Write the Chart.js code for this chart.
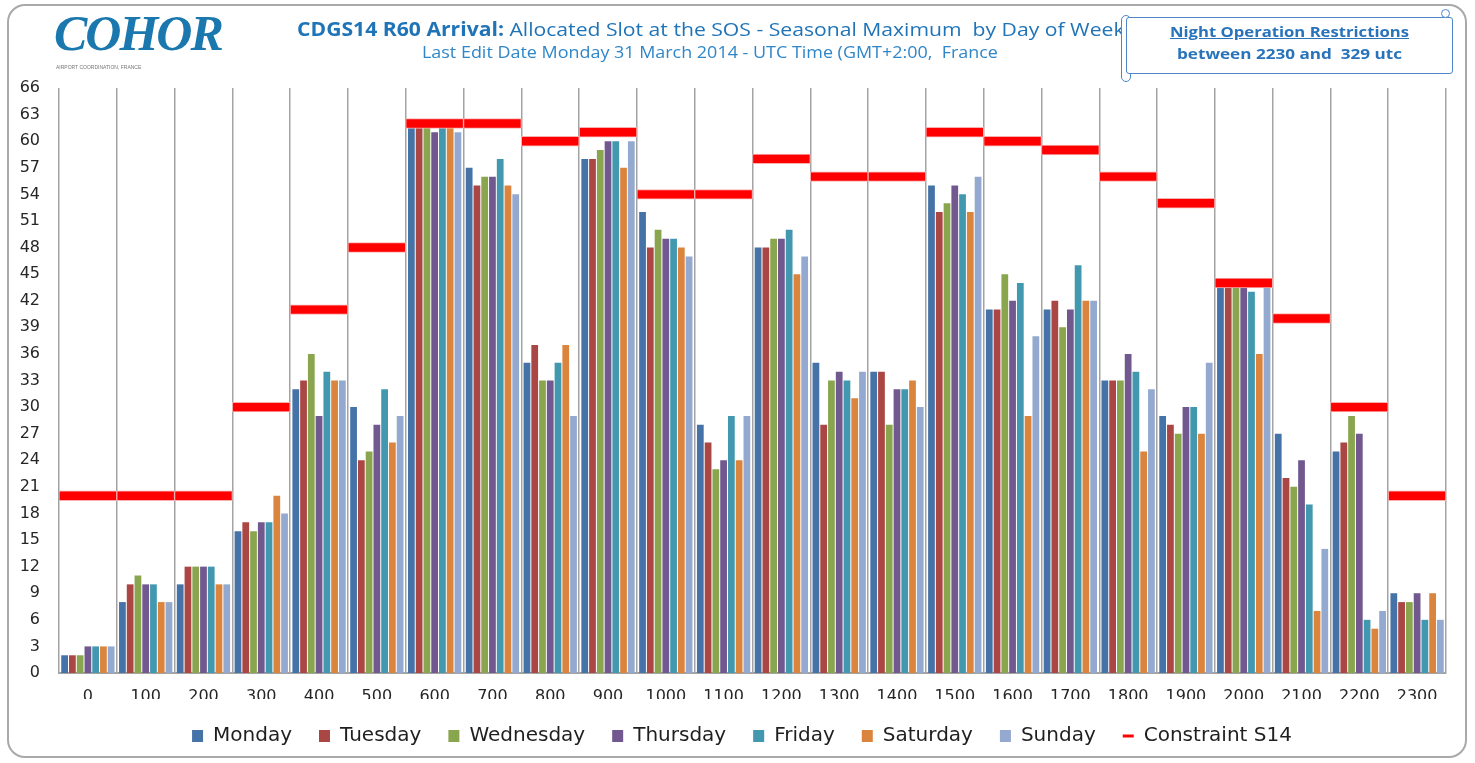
<!DOCTYPE html>
<html>
<head>
<meta charset="utf-8">
<script src="https://cdn.jsdelivr.net/npm/chart.js@4.4.1/dist/chart.umd.min.js"></script>
<style>
  html, body { margin: 0; padding: 0; background: #fff; }
  #wrap { position: relative; width: 1475px; height: 763px; overflow: hidden; background: #fff; }
  #c { position: absolute; left: 0; top: 0; }
  .frame { position: absolute; left: 7px; top: 4px; width: 1460px; height: 754px; border: 2px solid #a9a9a9; border-radius: 18px; pointer-events: none; box-sizing: border-box; }
  .logo { position: absolute; left: 54px; top: 8px; font-family: 'Liberation Serif'; font-style: italic; font-weight: bold; font-size: 50px; line-height: 1; color: #1B78AE; letter-spacing: -2px; white-space: nowrap; }
  .logosub { position: absolute; left: 56px; top: 64px; font-family: 'Liberation Sans'; font-size: 5px; color: #777; white-space: nowrap; }
  .title { position: absolute; left: 297px; top: 20px; font-family: 'Open Sans'; font-size: 19px; line-height: 1; color: #1F74B8; white-space: nowrap; transform: scaleX(1.113); transform-origin: left top; }
  .subtitle { position: absolute; left: 422px; top: 45px; font-family: 'Open Sans'; font-size: 15.5px; line-height: 1; color: #2F86C8; white-space: nowrap; transform: scaleX(1.157); transform-origin: left top; }
  .curl { position: absolute; left: 1121px; top: 15px; width: 10px; height: 67px; border: 1.5px solid #4F86C6; border-radius: 5px; background: #fff; box-sizing: border-box; }
  .note { position: absolute; left: 1126px; top: 17px; width: 327px; height: 57px; border: 1.5px solid #4F86C6; border-radius: 3px; background: #fff; box-sizing: border-box; font-family: 'Open Sans'; font-weight: bold; color: #2873BA; }
  .note .l1 { position: absolute; left: 0; right: 0; top: 6px; text-align: center; font-size: 15px; line-height: 1; text-decoration: underline; white-space: nowrap; transform: scaleX(1.11); }
  .note .l2 { position: absolute; left: 0; right: 0; top: 28px; text-align: center; font-size: 15px; line-height: 1; white-space: nowrap; transform: scaleX(1.14); }
  .knob { position: absolute; left: 1441px; top: 9px; width: 9px; height: 9px; border: 1.5px solid #4F86C6; border-radius: 50%; background: #fff; box-sizing: border-box; }
</style>
</head>
<body>
<div id="wrap">
  <canvas id="c" width="1475" height="763"></canvas>
  <div class="logo">COHOR</div>
  <div class="logosub">AIRPORT COORDINATION, FRANCE</div>
  <div class="title"><b>CDGS14 R60 Arrival:</b> Allocated Slot at the SOS - Seasonal Maximum&nbsp; by Day of Week</div>
  <div class="subtitle">Last Edit Date Monday 31 March 2014 - UTC Time (GMT+2:00,&nbsp; France</div>
  <div class="curl"></div>
  <div class="note">
    <div class="l1">Night Operation Restrictions</div>
    <div class="l2">between 2230 and&nbsp; 329 utc</div>
  </div>
  <div class="knob"></div>
  <div class="frame"></div>
</div>
<script>
// ---- Data ----
const hours = ['0','100','200','300','400','500','600','700','800','900','1000','1100',
               '1200','1300','1400','1500','1600','1700','1800','1900','2000','2100','2200','2300'];
const dayNames = ['Monday','Tuesday','Wednesday','Thursday','Friday','Saturday','Sunday'];
const monday    = [2, 8,10,16,32,30,62,57,35,58,52,28,48,35,34,55,41,41,33,29,44,27,25,9];
const tuesday   = [2,10,12,17,33,24,62,55,37,58,48,26,48,28,34,52,41,42,33,28,44,22,26,8];
const wednesday = [2,11,12,16,36,25,62,56,33,59,50,23,49,33,28,53,45,39,33,27,44,21,29,8];
const thursday  = [3,10,12,17,29,28,61,56,33,60,49,24,49,34,32,55,42,41,36,30,44,24,27,9];
const friday    = [3,10,12,17,34,32,62,58,35,60,49,29,50,33,32,54,44,46,34,30,43,19,6,6];
const saturday  = [3, 8,10,20,33,26,62,55,37,57,48,24,45,31,33,52,29,42,25,27,36,7,5,9];
const sunday    = [3, 8,10,18,33,29,61,54,29,60,47,29,47,34,30,56,38,42,32,35,44,14,7,6];
const constraintS14 = [20,20,20,30,41,48,62,62,60,61,54,54,58,56,56,61,60,59,56,53,44,40,30,20];
const yTicksMax = 66;
const yTickStep = 3;

// ---- Styles ----
const dayColors = ['#4572A7','#AA4643','#89A54E','#71588F','#4198AF','#DB843D','#93A9CF'];
const constraintColor = '#FF0000';
const constraintHalf = 0.55; // half thickness of the constraint band, in axis units
const textColor = '#262626';

const daySeries = [monday, tuesday, wednesday, thursday, friday, saturday, sunday];
const datasets = daySeries.map((d, i) => ({
  type: 'bar',
  label: dayNames[i],
  data: d,
  backgroundColor: dayColors[i],
  borderWidth: 0,
  categoryPercentage: 0.94,
  barPercentage: 0.87,
  order: 1
}));
datasets.push({
  type: 'bar',
  label: 'Constraint S14',
  data: constraintS14.map(v => [v - constraintHalf, v + constraintHalf]),
  backgroundColor: constraintColor,
  borderColor: '#F7B0B0',
  borderWidth: 1,
  borderSkipped: false,
  grouped: false,
  categoryPercentage: 1,
  barPercentage: 1,
  order: 0
});

// shift the legend so it is centred where the reference puts it
const legendShift = {
  id: 'legendShift',
  afterLayout(chart) {
    if (chart.legend) { chart.legend.left += 19; chart.legend.right += 19; }
  }
};

new Chart(document.getElementById('c'), {
  data: { labels: hours, datasets },
  plugins: [legendShift],
  options: {
    responsive: false,
    animation: false,
    devicePixelRatio: 1,
    layout: { padding: { left: 0, right: 29, top: 88, bottom: 7 } },
    scales: {
      x: {
        grid: { offset: true, color: '#a3a3a3', lineWidth: 1.5, drawTicks: false },
        border: { display: true, color: '#a3a3a3', width: 2 },
        ticks: { font: { family: 'DejaVu Sans', size: 16 }, color: textColor, padding: 14, maxRotation: 0, autoSkip: false },
        afterFit(s) { s.height = 26; }
      },
      y: {
        min: 0, max: yTicksMax,
        grid: { display: false, drawTicks: false },
        border: { display: false },
        ticks: { stepSize: yTickStep, font: { family: 'DejaVu Sans', size: 16 }, color: textColor, padding: 19 },
        afterFit(s) { s.width = 59; }
      }
    },
    plugins: {
      tooltip: { enabled: false },
      title: { display: false },
      legend: {
        position: 'bottom',
        labels: {
          font: { family: 'DejaVu Sans', size: 20 },
          color: '#1f1f1f',
          usePointStyle: true,
          boxHeight: 12,
          pointStyleWidth: 11,
          padding: 27,
          generateLabels(chart) {
            return chart.data.datasets.map((ds, i) => {
              const isLine = i === chart.data.datasets.length - 1;
              return {
                text: ds.label,
                fillStyle: isLine ? 'rgba(0,0,0,0)' : ds.backgroundColor,
                strokeStyle: isLine ? constraintColor : ds.backgroundColor,
                lineWidth: isLine ? 3 : 0,
                pointStyle: isLine ? 'line' : 'rect',
                hidden: false,
                datasetIndex: i,
                fontColor: '#1f1f1f'
              };
            });
          }
        }
      }
    }
  }
});
</script>
</body>
</html>
